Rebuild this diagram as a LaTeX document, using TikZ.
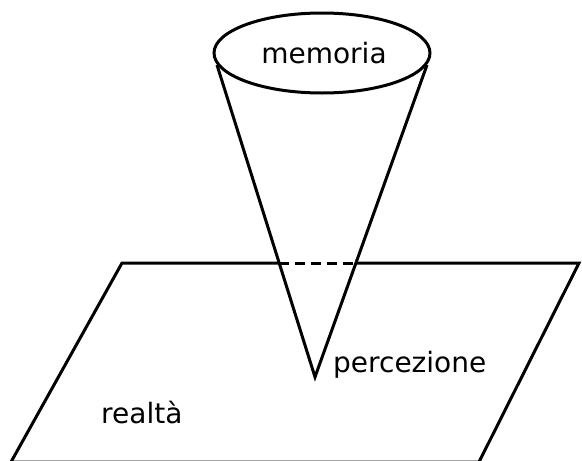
\documentclass[tikz,border=0pt]{standalone}
\usepackage{fontspec}
\setmainfont{DejaVu Sans}
\usetikzlibrary{shapes.geometric}
\tikzset{
  x=1pt, y=-1pt,
  edge/.style={line width=3pt, line join=miter},
  hidden/.style={line width=3pt, dash pattern=on 10pt off 6pt},
  lbl/.style={font=\fontsize{28}{30}\selectfont, inner sep=0pt, anchor=base west}
}
\begin{document}
\begin{tikzpicture}
\useasboundingbox (0,0) rectangle (582,461);
% plane
\coordinate (TL) at (122,263);
\coordinate (TR) at (579,263);
\coordinate (BR) at (479,462);
\coordinate (BL) at (11,462);
% cone
\coordinate (cl) at (217,65);
\coordinate (cr) at (427,65);
\coordinate (apex) at (315,377);
\coordinate (xl) at (278.5,263);
\coordinate (xr) at (357,263);
\node[ellipse, draw, line width=3pt, minimum width=216pt, minimum height=80pt, inner sep=0pt] (mem) at (322,53) {};
\node[lbl, anchor=base] (memtxt) at (324,63) {memoria};
\draw[edge] (xl) -- (TL) -- (BL) -- (BR) -- (TR) -- (xr);
\draw[hidden] (xl) -- (xr);
\draw[edge] (cl) -- (apex) -- (cr);
\node[lbl] (perc) at (333,372) {percezione};
\node[lbl] (real) at (101,423) {realtà};
\end{tikzpicture}
\end{document}
